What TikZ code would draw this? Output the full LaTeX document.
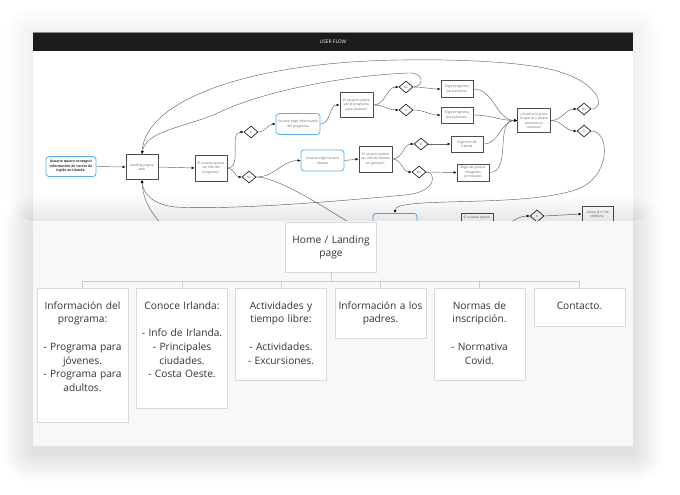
\documentclass[tikz,border=0pt]{standalone}
\usepackage{fontspec}
\setmainfont{Open Sans}
\usetikzlibrary{arrows.meta,shapes.geometric,shadows}
\definecolor{headbar}{HTML}{1C1C1C}
\definecolor{panelgrey}{HTML}{F7F8FA}
\definecolor{userblue}{HTML}{5AAEEE}
\definecolor{treeline}{HTML}{C9CDD1}
\tikzset{
  flowtext/.style={font=\fontsize{3.4}{4.5}\selectfont, text=black!60},
  stepbox/.style={flowtext, draw=black!70, line width=0.9pt, fill=white,
    align=center, inner sep=0.5pt, minimum width=32pt},
  userbox/.style={flowtext, draw=userblue, line width=0.8pt, fill=white,
    rounded corners=3pt, align=center, inner sep=0.5pt},
  choice/.style={diamond, draw=black!85, line width=0.7pt, fill=white,
    minimum width=14pt, minimum height=12pt, inner sep=0pt,
    font=\fontsize{3}{3.4}\selectfont, text=black!65},
  flow/.style={draw=black!60, line width=0.45pt,
    -{Latex[length=3pt,width=2.6pt,color=black]}},
  pagebox/.style={draw=black!15, fill=white, anchor=north, align=center,
    text width=86pt, inner xsep=2.5pt, inner ysep=0pt, text height=21pt,
    font=\fontsize{10.2}{13.7}\selectfont, text=black!80,
    drop shadow={opacity=0.1, shadow xshift=0.4pt, shadow yshift=-0.8pt}},
  tree/.style={draw=treeline, line width=0.7pt}
}
\begin{document}
\begin{tikzpicture}[x=1pt,y=-1pt]
\useasboundingbox (0,0) rectangle (680,495);
\fill[white] (0,0) rectangle (680,495);
\foreach \i in {1,...,14}
  {
    \pgfmathsetmacro\sh{2*\i}
    \fill[black, opacity=0.005, rounded corners=\sh pt] (33-\sh,35-\sh) rectangle (633+\sh,221);
  }
\fill[white] (33,32) rectangle (633,221);
\fill[headbar] (33,32) rectangle (633,51);
\draw[black!45, line width=0.8pt] (33,32.4) -- (633,32.4);
\node[text=white, font=\fontsize{4.9}{5}\selectfont] (title) at (333,41.5) {USER FLOW};

\node[userbox, minimum width=50pt, minimum height=20pt, font=\fontsize{3.4}{4.5}\selectfont\bfseries, text=black!85] (start) at (71,166.5) {Usuario quiere conseguir\\información de cursos de\\inglés en Irlanda.};
\node[stepbox, minimum height=25pt] (landing) at (142,167) {Landing página\\web};
\node[stepbox, minimum height=26pt] (q1) at (211,168) {El usuario quiere\\ver info del\\programa?};
\node[choice] (d1si) at (251,132) {Sí};
\node[choice] (d1no) at (249,177) {No};
\node[userbox, minimum width=44pt, minimum height=21pt] (infoprog) at (298,124) {Usuario elige información\\del programa};
\node[userbox, minimum width=43pt, minimum height=21pt] (conoce) at (322.5,160.5) {Usuario elige Conoce\\Irlanda};
\node[stepbox, minimum width=33pt, minimum height=25pt] (q2) at (356.5,105) {El usuario quiere\\ver el programa\\para jóvenes?};
\node[choice] (d2no) at (406,87) {No};
\node[choice] (d2si) at (406,110) {Sí};
\node[stepbox, minimum height=17pt] (adultos) at (457,89) {Elige programa\\para adultos.};
\node[stepbox, minimum height=16pt] (jovenes) at (457,115) {Elige programa\\para jóvenes.};
\node[stepbox, minimum width=33pt, minimum height=26pt] (q3) at (375.5,159) {El usuario quiere\\ver info de Irlanda\\en general?};
\node[choice] (d3si) at (421,144) {Sí};
\node[choice] (d3no) at (419,172) {No};
\node[stepbox, minimum height=16pt] (infoirl) at (467,144) {Elige info de\\Irlanda};
\node[stepbox, minimum height=17pt] (galeria) at (473,172.5) {Elige ver galería\\imágenes\\principales};
\node[stepbox, minimum width=33pt, minimum height=24pt] (gusta) at (534,120.5) {¿Usuario le gusta\\lo que ve y quiere\\ponerse en\\contacto?};
\node[choice] (d4no) at (584,109) {No};
\node[choice] (d4si) at (584,131) {Sí};
\node[userbox, minimum width=44pt, minimum height=26pt, anchor=north] (lowbox) at (395,213) {};
\node[stepbox, anchor=north, text height=3pt, text depth=22pt, inner ysep=2pt] (q4) at (477,213) {El usuario quiere};
\node[choice] (d5si) at (537,216) {Sí};
\node[stepbox, minimum width=31pt, minimum height=16pt] (llama) at (597.5,214) {Llama al nº de\\teléfono.};
\coordinate (fromlow) at (168,232);
\coordinate (tolow) at (365,232);

\draw[flow] (start.east) -- (landing.west);
\draw[flow] (landing.east) -- (q1.west);
\draw[flow] (q1.east) to[out=0,in=180] (d1si.west);
\draw[flow] (q1.east) to[out=0,in=180] (d1no.west);
\draw[flow] (d1si.east) to[out=0,in=180] (infoprog.west);
\draw[flow] (d1no.east) to[out=0,in=180] (conoce.west);
\draw[flow] (infoprog.east) to[out=0,in=180] (q2.west);
\draw[flow] (q2.east) to[out=0,in=180] (d2no.west);
\draw[flow] (q2.east) to[out=0,in=180] (d2si.west);
\draw[flow] (d2no.east) to[out=0,in=180] (adultos.west);
\draw[flow] (d2si.east) to[out=0,in=180] (jovenes.west);
\draw[flow] (conoce.east) -- (q3.west);
\draw[flow] (q3.east) to[out=0,in=180] (d3si.west);
\draw[flow] (q3.east) to[out=0,in=180] (d3no.west);
\draw[flow] (d3si.east) -- (infoirl.west);
\draw[flow] (d3no.east) -- (galeria.west);
\foreach \n in {adultos,jovenes,infoirl,galeria}
  \draw[flow] (\n.east) to[out=0,in=180] (gusta.west);
\draw[flow] (gusta.east) to[out=0,in=180] (d4no.west);
\draw[flow] (gusta.east) to[out=0,in=180] (d4si.west);
\draw[flow] (q4.east) to[out=0,in=180] (d5si.west);
\draw[flow] (d5si.east) -- (llama.west);
\draw[flow] (d4no.east) .. controls (606,109) and (600,84) .. (560,72)
  .. controls (530,62) and (460,59) .. (400,60)
  .. controls (250,62) and (145,100) .. (landing.north);
\draw[flow] (d2no.east) .. controls (424,87) and (425,72) .. (408,73)
  .. controls (340,76) and (262,92) .. (220,112)
  .. controls (185,128) and (146,130) .. (landing.north);
\draw[flow] (d3no.east) .. controls (436,172) and (438,192) .. (405,195)
  .. controls (330,202) and (230,210) .. (175,207)
  .. controls (155,205) and (143,195) .. (landing.south);
\draw[flow] (fromlow) .. controls (150,212) and (143,200) .. (landing.south);
\draw[draw=black!60, line width=0.45pt] (d1no.east) .. controls (280,178) and (320,205) .. (tolow);
\draw[flow] (d4si.east) .. controls (610,131) and (612,178) .. (575,190)
  .. controls (520,208) and (395,196) .. (lowbox.north);

\foreach \i in {1,...,15}
  {
    \pgfmathsetmacro\sh{2*\i}
    \fill[black, opacity=0.0075, rounded corners=\sh pt] (33-\sh,227-\sh) rectangle (633+\sh,452+\sh);
  }
\fill[panelgrey] (33,221) rectangle (633,446);

\node[pagebox, text depth=29pt] (home) at (331,222) {Home / Landing\\page};
\node[pagebox, text depth=113pt] (prog) at (82.5,288) {Información del\\programa:\\[13.7pt]- Programa para\\jóvenes.\\- Programa para\\adultos.};
\node[pagebox, text depth=99pt] (irlanda) at (182,288) {Conoce Irlanda:\\[13.7pt]- Info de Irlanda.\\- Principales\\ciudades.\\- Costa Oeste.};
\node[pagebox, text depth=71pt] (ocio) at (281,288) {Actividades y\\tiempo libre:\\[13.7pt]- Actividades.\\- Excursiones.};
\node[pagebox, text depth=29pt] (padres) at (380.5,288) {Información a los\\padres.};
\node[pagebox, text depth=71pt] (normas) at (479.5,288) {Normas de\\inscripción.\\[13.7pt]- Normativa\\Covid.};
\node[pagebox, text depth=17pt] (cont) at (579.5,288) {Contacto.};
\coordinate (bus) at (331,281);
\draw[tree] (home.south) -- (home.south |- bus);
\draw[tree] (prog.north |- bus) -- (cont.north |- bus);
\foreach \p in {prog,irlanda,ocio,padres,normas,cont}
  \draw[tree] (\p.north |- bus) -- (\p.north);
\end{tikzpicture}
\end{document}
